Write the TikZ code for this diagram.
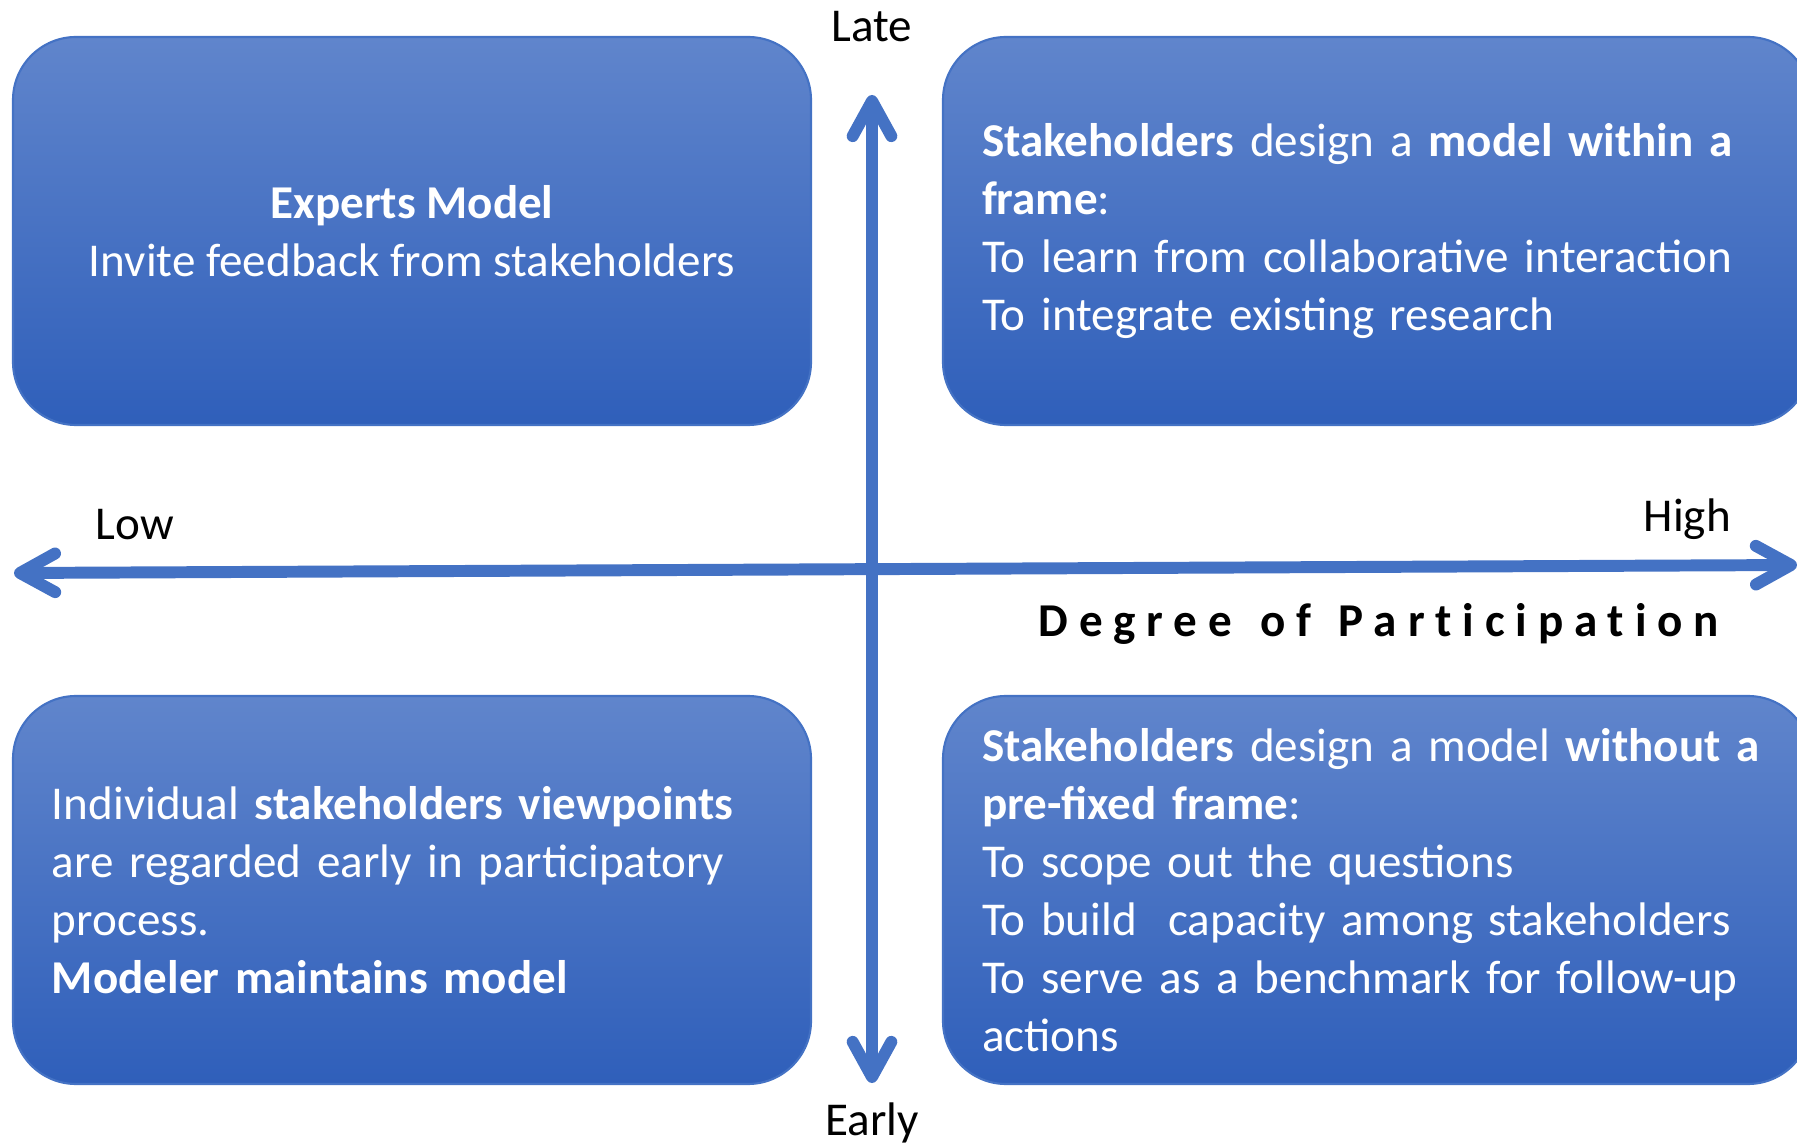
\documentclass[tikz,border=0pt]{standalone}
\usepackage{fontspec}
\setmainfont{Carlito}
\newfontfamily\spacedfont[LetterSpace=23, WordSpace=1.3, RawFeature=-liga]{Carlito}
\usetikzlibrary{arrows.meta}
\definecolor{axisblue}{HTML}{4472C4}
\definecolor{boxtop}{HTML}{6085CC}
\definecolor{boxbottom}{HTML}{2F5FBA}

\begin{document}
\begin{tikzpicture}[
  font=\fontsize{13.4}{16.5}\selectfont,
  quad/.style={rounded corners=0.63cm, top color=boxtop, bottom color=boxbottom,
    draw=axisblue, line width=0.6pt, text=white, inner xsep=0.39cm,
    inner ysep=0.1cm, minimum height=3.88cm},
  axis/.style={draw=axisblue, line width=3.4pt,
    >={Straight Barb[length=10pt,width=11pt,round]}},
  tag/.style={anchor=base, inner sep=0pt}
]
\useasboundingbox (0,0) rectangle (17.97,11.45);
% quadrants
\node[quad, minimum width=7.98cm, align=center] (experts) at (4.12,9.14)
  {\textbf{Experts Model}\\Invite feedback from stakeholders};
\node[quad, text width=7.9cm, align=left] (framed) at (13.77,9.14)
  {\textbf{Stakeholders} design a \textbf{model within a}\\
   \textbf{frame}:\\
   To learn from collaborative interaction\\
   To integrate existing research};
\node[quad, text width=7.2cm, align=left] (viewpoints) at (4.12,2.55)
  {Individual \textbf{stakeholders viewpoints}\\
   are regarded early in participatory\\
   process.\\
   \textbf{Modeler maintains model}};
\node[quad, text width=7.9cm, align=left] (open) at (13.77,2.55)
  {\textbf{Stakeholders} design a model \textbf{without a}\\
   \textbf{pre-fixed frame}:\\
   To scope out the questions\\
   To build~ capacity among stakeholders\\
   To serve as a benchmark for follow-up\\
   actions};
% axes
\coordinate (west) at (0.14,5.72);
\coordinate (east) at (17.97,5.80);
\coordinate (south) at (8.72,0.62);
\coordinate (north) at (8.72,10.50);
\draw[axis,<->] (west) -- (east);
\draw[axis,<->] (south) -- (north);
% axis labels
\node[tag] (late) at (8.72,11.03) {Late};
\node[tag] (early) at (8.72,0.10) {Early};
\node[tag, anchor=base west] (low) at (0.95,6.05) {Low};
\node[tag, anchor=base west] (high) at (16.43,6.13) {High};
\node[tag, anchor=base west] (degree) at (10.38,5.08)
  {\spacedfont\bfseries Degree of Participation};
\end{tikzpicture}
\end{document}
